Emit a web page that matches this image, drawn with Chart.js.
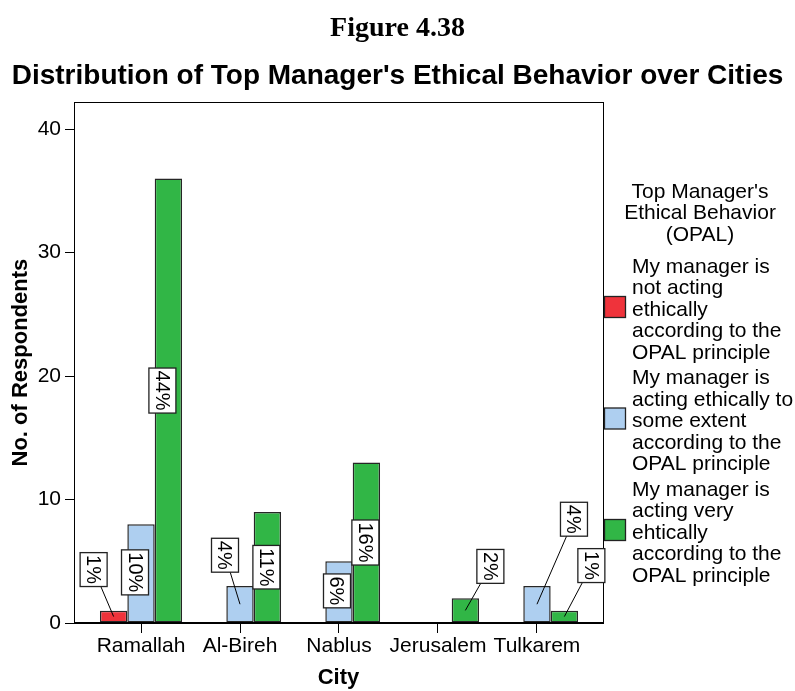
<!DOCTYPE html>
<html>
<head>
<meta charset="utf-8">
<title>Figure 4.38</title>
<script src="https://cdn.jsdelivr.net/npm/chart.js@4/dist/chart.umd.min.js"></script>
<style>
  html, body { margin: 0; padding: 0; background: #fff; }
  canvas { display: block; }
</style>
</head>
<body>
<canvas id="chartCiudades" width="795" height="691"></canvas>
<script>
// Datos: número de encuestados por ciudad y por categoría de comportamiento ético
const ciudades = ['Ramallah', 'Al-Bireh', 'Nablus', 'Jerusalem', 'Tulkarem'];
const noEtico = [1, 0, 0, 0, 0];
const algoEtico = [8, 3, 5, 0, 3];
const muyEtico = [36, 9, 13, 2, 1];
const ticksY = [0, 10, 20, 30, 40];

const etiquetasSerie = [
    ['My manager is', 'not acting', 'ethically', 'according to the', 'OPAL principle'],
    ['My manager is', 'acting ethically to', 'some extent', 'according to the', 'OPAL principle'],
    ['My manager is', 'acting very', 'ehtically', 'according to the', 'OPAL principle']
];
const tituloLeyenda = ["Top Manager's", 'Ethical Behavior', '(OPAL)'];
const coloresSerie = ['#ef333b', '#aecff0', '#31b646'];

const SANS = "'Liberation Sans', Arial, Helvetica, sans-serif";
const SERIF = "'Liberation Serif', 'Times New Roman', serif";

const totalRespuestas = [...noEtico, ...algoEtico, ...muyEtico].reduce((s, v) => s + v, 0);

// cada serie como puntos {x, y} sobre un eje lineal de ciudades
const aPuntos = valores => valores.map((v, i) => ({ x: i, y: v }));

// desplazamiento de la caja de porcentaje respecto al centro de la barra [dx, dy, línea guía]
const desplazamientos = {
    '0-0': [-20, -47, true],
    '1-0': [-6, -1, false],
    '2-0': [-6, -10, false],
    '1-1': [-15, -49, true],
    '2-1': [-1, 0, false],
    '1-2': [-2, -1, false],
    '2-2': [-1, 0, false],
    '2-3': [25, -44, true],
    '1-4': [37, -85, true],
    '2-4': [27, -51, true]
};

// marco completo alrededor del área del gráfico
const marco = {
    id: 'marco',
    afterDatasetsDraw(chart) {
        const { ctx, chartArea: a } = chart;
        ctx.save();
        ctx.strokeStyle = '#000';
        ctx.lineWidth = 1;
        ctx.strokeRect(Math.round(a.left) + 0.5, Math.round(a.top) + 0.5,
            Math.round(a.right - a.left), Math.round(a.bottom - a.top) - 1);
        ctx.restore();
    }
};

// cajas con el porcentaje, texto girado 90°
const porcentajes = {
    id: 'porcentajes',
    afterDatasetsDraw(chart) {
        const ctx = chart.ctx;
        ctx.save();
        ctx.font = '20px ' + SANS;
        chart.data.datasets.forEach((ds, d) => {
            chart.getDatasetMeta(d).data.forEach((barra, i) => {
                const v = ds.data[i].y;
                if (!v) return;
                const texto = Math.round(v / totalRespuestas * 100) + '%';
                const cx = barra.x;
                const cy = (barra.y + barra.base) / 2;
                const [dx, dy, guia] = desplazamientos[d + '-' + i] || [0, 0, false];
                const bx = cx + dx, by = cy + dy;
                const largo = ctx.measureText(texto).width + 5;
                const ancho = 27;
                if (guia) {
                    ctx.strokeStyle = '#000';
                    ctx.lineWidth = 1;
                    ctx.beginPath();
                    ctx.moveTo(cx, cy);
                    ctx.lineTo(bx, by);
                    ctx.stroke();
                }
                ctx.fillStyle = '#fff';
                ctx.fillRect(bx - ancho / 2, by - largo / 2, ancho, largo);
                ctx.strokeStyle = '#222';
                ctx.lineWidth = 1.3;
                ctx.strokeRect(bx - ancho / 2, by - largo / 2, ancho, largo);
                ctx.save();
                ctx.translate(bx, by);
                ctx.rotate(Math.PI / 2);
                ctx.fillStyle = '#000';
                ctx.textAlign = 'center';
                ctx.textBaseline = 'middle';
                ctx.fillText(texto, 0, 1);
                ctx.restore();
            });
        });
        ctx.restore();
    }
};

// leyenda a la derecha con texto de varias líneas
const leyenda = {
    id: 'leyenda',
    afterDraw(chart) {
        const { ctx, chartArea: a } = chart;
        const x0 = a.right;
        const lh = 21.5;
        ctx.save();
        ctx.font = '21px ' + SANS;
        ctx.fillStyle = '#000';
        ctx.textBaseline = 'middle';
        ctx.textAlign = 'center';
        tituloLeyenda.forEach((t, k) => ctx.fillText(t, x0 + 97, 192 + k * lh));
        ctx.textAlign = 'left';
        etiquetasSerie.forEach((lineas, s) => {
            const y0 = 267 + s * 111.5;
            lineas.forEach((t, k) => ctx.fillText(t, x0 + 29, y0 + k * lh));
            const yc = y0 + 2 * lh - 3;
            ctx.fillStyle = coloresSerie[s];
            ctx.fillRect(x0 + 1, yc - 10.5, 22, 21);
            ctx.strokeStyle = '#222';
            ctx.lineWidth = 1.3;
            ctx.strokeRect(x0 + 1.5, yc - 10.5, 21, 21);
            ctx.fillStyle = '#000';
        });
        ctx.restore();
    }
};

const serie = (nombre, valores, color) => ({
    label: nombre,
    data: aPuntos(valores),
    backgroundColor: color,
    borderColor: '#262626',
    borderWidth: 1.5,
    borderSkipped: false
});

new Chart(document.getElementById('chartCiudades'), {
    type: 'bar',
    data: {
        datasets: [
            serie(etiquetasSerie[0].join(' '), noEtico, coloresSerie[0]),
            serie(etiquetasSerie[1].join(' '), algoEtico, coloresSerie[1]),
            serie(etiquetasSerie[2].join(' '), muyEtico, coloresSerie[2])
        ]
    },
    options: {
        responsive: false,
        animation: false,
        categoryPercentage: 0.83,
        barPercentage: 1,
        layout: { padding: 0 },
        scales: {
            x: {
                type: 'linear',
                offset: false,
                min: -0.677,
                max: 4.667,
                afterBuildTicks: s => { s.ticks = ciudades.map((_, i) => ({ value: i })); },
                afterFit: s => { s.height = 68; },
                grid: { drawOnChartArea: false, drawTicks: true, tickLength: 10, color: '#000', offset: false },
                border: { display: true, color: '#000', width: 1 },
                ticks: {
                    callback: v => ciudades[v],
                    color: '#000',
                    padding: 1,
                    maxRotation: 0,
                    autoSkip: false,
                    font: { family: SANS, size: 21 }
                },
                title: {
                    display: true,
                    text: 'City',
                    color: '#000',
                    padding: { top: 0, bottom: 0 },
                    font: { family: SANS, size: 22, weight: 'bold' }
                }
            },
            y: {
                min: 0,
                max: 42.19,
                afterBuildTicks: s => { s.ticks = ticksY.map(v => ({ value: v })); },
                afterFit: s => { s.width = 74; },
                grid: { drawOnChartArea: false, drawTicks: true, tickLength: 9, color: '#000' },
                border: { display: true, color: '#000', width: 1 },
                ticks: {
                    color: '#000',
                    padding: 4,
                    font: { family: SANS, size: 21 }
                },
                title: {
                    display: true,
                    text: 'No. of Respondents',
                    color: '#000',
                    padding: { top: 8, bottom: 0 },
                    font: { family: SANS, size: 22, weight: 'bold' }
                }
            },
            // eje vacío que reserva el espacio de la leyenda
            espacioLeyenda: {
                type: 'linear',
                position: 'right',
                display: true,
                grid: { display: false, drawTicks: false },
                border: { display: false },
                ticks: { display: false },
                afterFit: s => { s.width = 192; }
            }
        },
        plugins: {
            legend: { display: false },
            tooltip: { enabled: false },
            title: {
                display: true,
                text: 'Figure 4.38',
                color: '#000',
                padding: { top: 12, bottom: 10 },
                font: { family: SERIF, size: 28, weight: 'bold', lineHeight: 1.2 }
            },
            subtitle: {
                display: true,
                text: "Distribution of Top Manager's Ethical Behavior over Cities",
                color: '#000',
                padding: { top: 4, bottom: 9 },
                font: { family: SANS, size: 28, weight: 'bold', lineHeight: 1.2 }
            }
        }
    },
    plugins: [marco, porcentajes, leyenda]
});
</script>
</body>
</html>
